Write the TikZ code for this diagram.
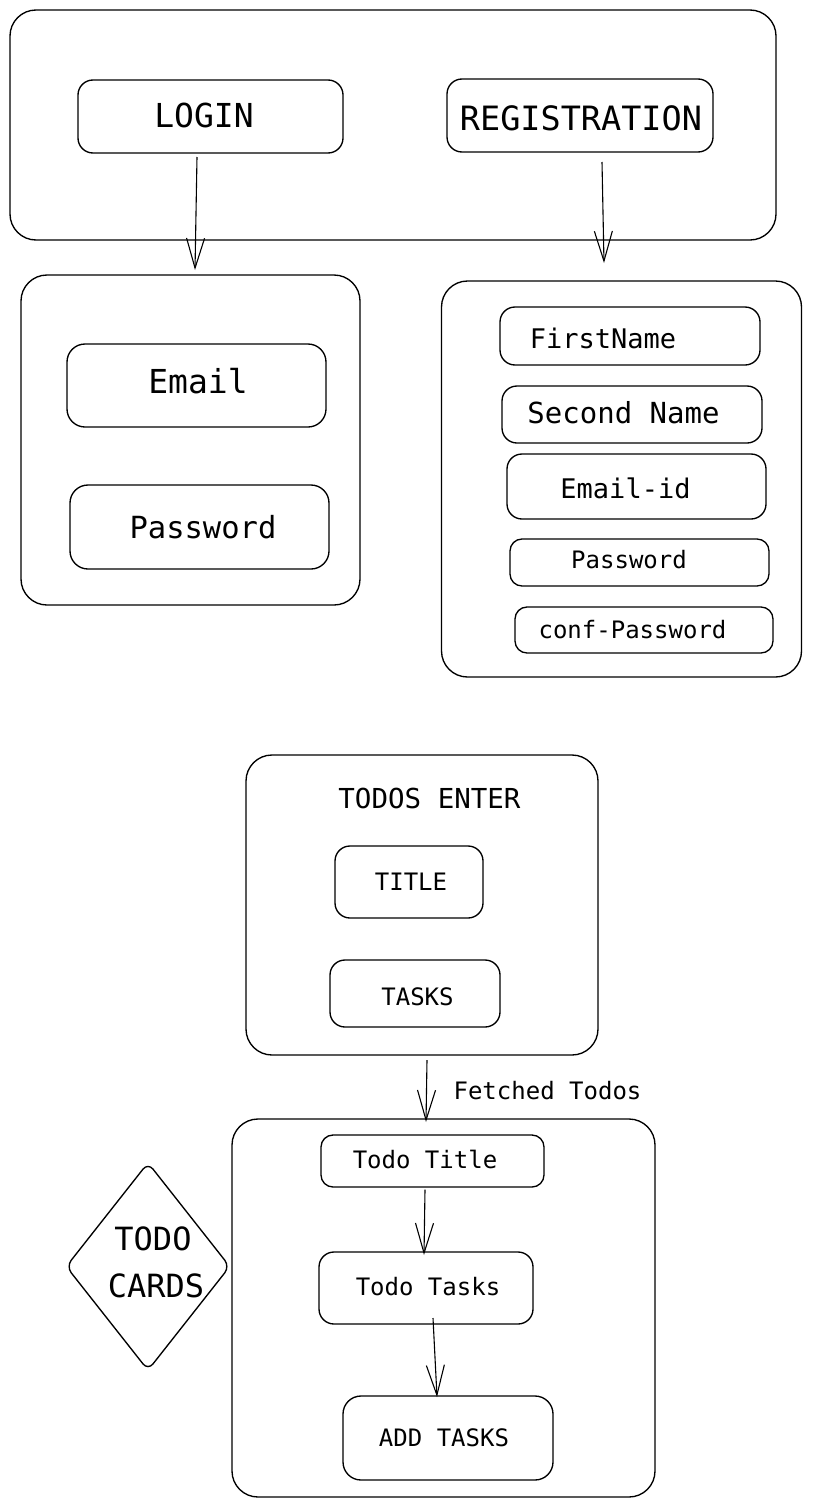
\documentclass[tikz,border=0pt]{standalone}
\usepackage{fontspec}
\setmonofont{DejaVu Sans Mono}
\usetikzlibrary{arrows.meta,shapes.geometric}
\newcommand\fsz[1]{\fontsize{#1}{#1}\selectfont}
\begin{document}
\begin{tikzpicture}[x=1pt,y=-1pt,
  box/.style={draw, line width=1.35pt, rounded corners=15pt, inner sep=0pt},
  bigbox/.style={box, rounded corners=26pt},
  lbl/.style={anchor=base, inner sep=0pt, font=\ttfamily},
  arr/.style={draw, line width=1.1pt, -{Straight Barb[length=30pt,width=18pt,line width=1.1pt]}}
]
\useasboundingbox (0,0) rectangle (812,1507);

% ---------- top section ----------
\node[bigbox, minimum width=766pt, minimum height=230pt] (top) at (393,125) {};
\node[box, minimum width=265pt, minimum height=73pt] (login) at (210.5,116.5) {};
\node[box, minimum width=266pt, minimum height=73pt] (reg) at (580,115.5) {};
\node[lbl] (tlogin) at (204,127) {\fsz{33}LOGIN};
\node[lbl] (treg) at (581,130) {\fsz{33.5}REGISTRATION};

% ---------- login fields ----------
\node[bigbox, minimum width=339pt, minimum height=330pt] (lbox) at (190.5,440) {};
\node[box, minimum width=259pt, minimum height=83pt, rounded corners=18pt] (email) at (196.5,385.5) {};
\node[box, minimum width=259pt, minimum height=84pt, rounded corners=18pt] (pass) at (199.5,527) {};
\node[lbl] (temail) at (198,393) {\fsz{33}Email};
\node[lbl] (tpass) at (203,538) {\fsz{30.5}Password};

% ---------- registration fields ----------
\node[bigbox, minimum width=360pt, minimum height=396pt] (rbox) at (621.5,479) {};
\node[box, minimum width=260pt, minimum height=58pt] (fn) at (630,336) {};
\node[box, minimum width=260pt, minimum height=57pt] (sn) at (632,414.5) {};
\node[box, minimum width=259pt, minimum height=65pt] (eid) at (636.5,486.5) {};
\node[box, minimum width=259pt, minimum height=47pt, rounded corners=12pt] (rpass) at (639.5,562.5) {};
\node[box, minimum width=258pt, minimum height=46pt, rounded corners=12pt] (cpass) at (644,630) {};
\node[lbl] (tfn) at (603,348) {\fsz{27}FirstName};
\node[lbl] (tsn) at (623.5,423) {\fsz{29}Second Name};
\node[lbl] (teid) at (625.5,498) {\fsz{27}Email-id};
\node[lbl] (trpass) at (629,568) {\fsz{24}Password};
\node[lbl] (tcpass) at (632.5,638) {\fsz{24}conf-Password};

% top arrows
\coordinate (a1s) at (197,157);
\coordinate (a1e) at (195,270);
\coordinate (a2s) at (602,162);
\coordinate (a2e) at (604,263);
\draw[arr] (a1s) -- (a1e);
\draw[arr] (a2s) -- (a2e);

% ---------- todos enter ----------
\node[bigbox, minimum width=352pt, minimum height=300pt] (tenter) at (422,905) {};
\node[lbl] (ttenter) at (429.5,808) {\fsz{27.5}TODOS ENTER};
\node[box, minimum width=148pt, minimum height=72pt] (title) at (409,882) {};
\node[box, minimum width=170pt, minimum height=67pt] (tasks) at (415,993.5) {};
\node[lbl] (ttitle) at (411,890) {\fsz{24}TITLE};
\node[lbl] (ttasks) at (417.5,1005) {\fsz{24}TASKS};

% ---------- todo cards ----------
\node[bigbox, minimum width=423pt, minimum height=378pt] (cards) at (443.5,1308) {};
\node[box, minimum width=223pt, minimum height=52pt, rounded corners=12pt] (ttl) at (432.5,1161) {};
\node[box, minimum width=214pt, minimum height=72pt] (ttk) at (426,1288) {};
\node[box, minimum width=210pt, minimum height=84pt, rounded corners=18pt] (add) at (448,1438) {};
\node[lbl] (tttl) at (425,1168) {\fsz{24}Todo Title};
\node[lbl] (tttk) at (428,1295) {\fsz{24}Todo Tasks};
\node[lbl] (tadd) at (444,1446) {\fsz{24}ADD TASKS};

\node[draw, diamond, line width=1.35pt, rounded corners=8pt, inner sep=0pt,
      minimum width=164pt, minimum height=208pt] (dia) at (148,1266.5) {};
\node[lbl] (td1) at (153,1250) {\fsz{32}TODO};
\node[lbl] (td2) at (156,1297) {\fsz{32}CARDS};

% arrows
\coordinate (a3s) at (427,1060);
\coordinate (a3e) at (426,1122);
\draw[arr] (a3s) -- (a3e);
\node[lbl] (tfetch) at (547.5,1099) {\fsz{24}Fetched Todos};
\draw[arr] (ttl.south -| 425,0) ++(0,2) -- (424,1255);
\coordinate (a5s) at (433,1318);
\coordinate (a5e) at (437,1397);
\draw[arr] (a5s) -- (a5e);
\end{tikzpicture}
\end{document}
